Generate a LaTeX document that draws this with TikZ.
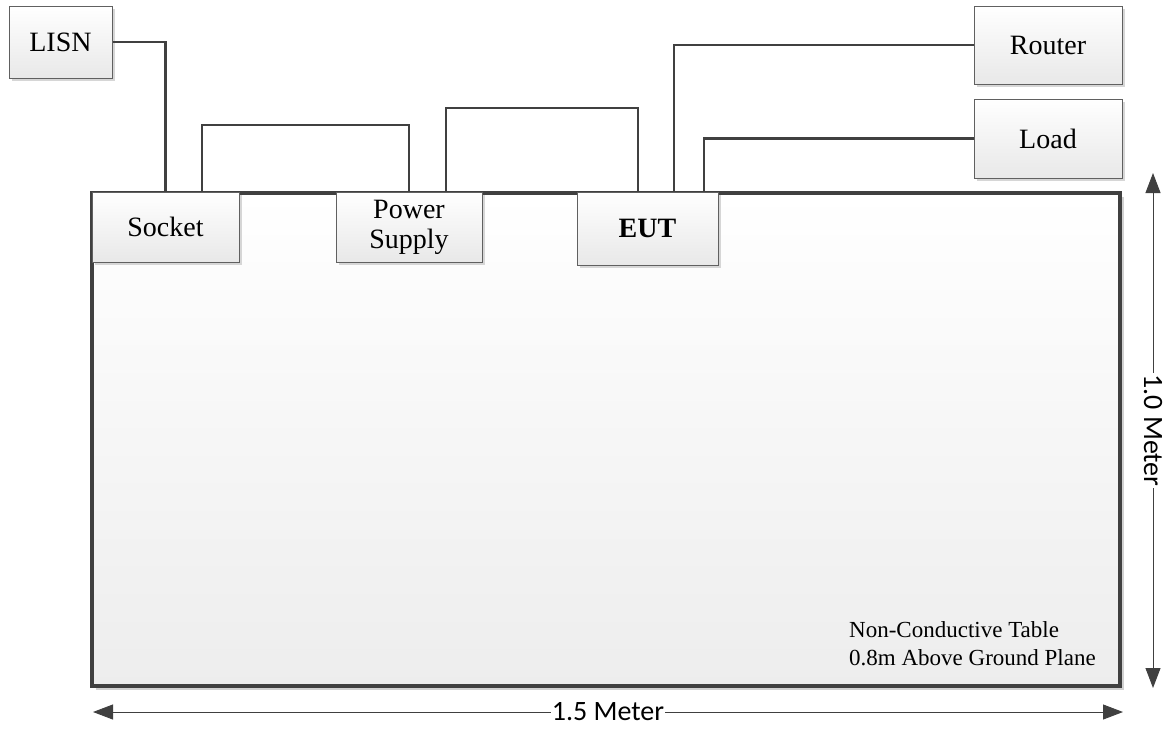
\documentclass[tikz,border=0pt]{standalone}
\usepackage{fontspec}
\setmainfont{Liberation Serif}
\newfontfamily\dimfont{Carlito}
\usetikzlibrary{arrows.meta,calc}
\definecolor{wire}{HTML}{404040}
\definecolor{boxline}{HTML}{606060}
\tikzset{
  devbox/.style={draw=boxline, line width=1pt, top color=white, bottom color=black!9,
    minimum width=#1, inner sep=0pt, align=center,
    font=\rmfamily\fontsize{28}{30}\selectfont},
  devbox/.default=147pt,
  wireline/.style={draw=wire, line width=2.5pt},
  dimline/.style={draw=wire, line width=0.9pt, {Triangle[length=20pt,width=15pt]}-{Triangle[length=20pt,width=15pt]}},
  dimlabel/.style={fill=white, inner xsep=1pt, inner ysep=0pt, font=\dimfont\fontsize{28}{30}\selectfont, text=black},
  shadowbox/.style={fill=black!18, draw=none}
}
\begin{document}
\begin{tikzpicture}[x=1pt,y=-1pt]
\useasboundingbox (0,0) rectangle (1164,729);
% table
\fill[shadowbox] (96,197) rectangle (1124,690);
\path[top color=white, bottom color=black!7] (92,193) rectangle (1120,686);
\draw[wire, line width=4pt] (92,193) rectangle (1120,686);
% box shadows
\foreach \a/\b/\c/\d in {9/6/112/78, 92/192/239/262, 336/192/482/262, 577/192/718/265, 974/6/1122/84, 974/99/1122/178}{
  \fill[black!16] (\a+3,\b+3) rectangle (\c+3,\d+3);
}
% boxes
\node[devbox=103pt, minimum height=72pt] (lisn) at (60.5,42) {LISN};
\node[devbox=147pt, minimum height=70pt] (socket) at (165.5,227) {Socket};
\node[devbox=146pt, minimum height=70pt] (ps) at (409,227) {Power\\Supply};
\node[devbox=141pt, minimum height=73pt, font=\rmfamily\fontsize{28}{30}\selectfont\bfseries] (eut) at (647.5,228.5) {EUT};
\node[devbox=148pt, minimum height=78pt] (router) at (1048,45) {Router};
\node[devbox=148pt, minimum height=79pt] (load) at (1048,138.5) {Load};
% wires
\draw[wireline] (lisn.east) -| (socket.north);
\coordinate (sw) at (202,125);
\draw[wireline] (socket.north -| sw) -- (sw) -| (ps.north);
\coordinate (pw) at (446,108);
\coordinate (pe) at (638,108);
\draw[wireline] (ps.north -| pw) -- (pw) -- (pe) -- (eut.north -| pe);
\coordinate (er) at (674,45);
\draw[wireline] (eut.north -| er) |- (router.west);
\coordinate (el) at (704,139);
\draw[wireline] (eut.north -| el) |- (load.west);
% table text
\node[anchor=north west, align=left, inner sep=0pt, font=\rmfamily\fontsize{23}{28}\selectfont] (tabletext) at (849,621) {Non-Conductive Table\\0.8m Above Ground Plane};
% dimensions
\coordinate (vt) at (1153,173);
\coordinate (vb) at (1153,688);
\draw[dimline] (vt) -- (vb) node[midway, dimlabel, rotate=-90] (vlab) {1.0 Meter};
\coordinate (hl) at (93,712);
\coordinate (hr) at (1123,712);
\draw[dimline] (hl) -- (hr) node[midway, dimlabel] (hlab) {1.5 Meter};
\end{tikzpicture}
\end{document}
